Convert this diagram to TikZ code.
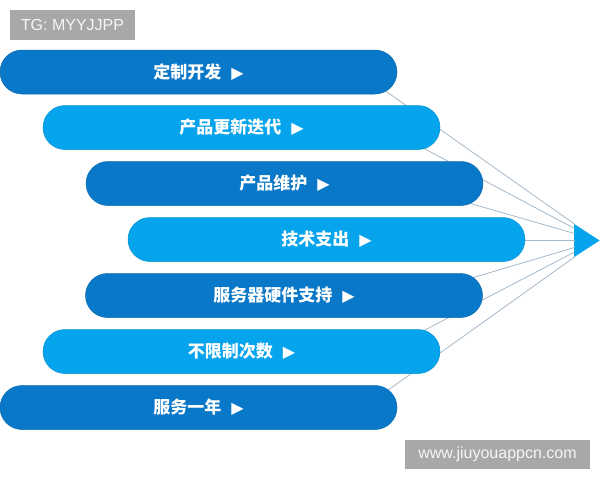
\documentclass[tikz,border=0pt]{standalone}
\usepackage{fontspec}
\setmainfont{Liberation Sans}
\newfontfamily\cjk{Noto Sans CJK SC}
\newfontfamily\symf{DejaVu Sans}
\usetikzlibrary{shapes.geometric}
\definecolor{bardark}{RGB}{10,120,200}
\definecolor{barlight}{RGB}{6,164,236}
\definecolor{linkgray}{RGB}{165,184,202}
\definecolor{tagbg}{RGB}{168,168,168}
\definecolor{tagtext}{RGB}{245,245,245}
\tikzset{
  barbox/.style={rectangle, rounded corners=22pt, minimum width=397pt, minimum height=44pt,
    inner sep=0pt, text=white, font=\cjk\bfseries\fontsize{17pt}{17pt}\selectfont},
  darkbar/.style={barbox, fill=bardark, draw=bardark!90!black, line width=0.5pt},
  lightbar/.style={barbox, fill=barlight, draw=barlight!90!black, line width=0.5pt},
  link/.style={draw=linkgray, line width=0.8pt},
  tag/.style={rectangle, fill=tagbg, text=tagtext, inner sep=0pt, font=\fontsize{16pt}{16pt}\selectfont},
}
\newcommand{\arr}{\hspace{10pt}{\symf\fontsize{16pt}{16pt}\selectfont ▶}}
\begin{document}
\begin{tikzpicture}[x=1pt,y=-1pt]
\useasboundingbox (0,0) rectangle (600,480);
% pointer triangle
\node[isosceles triangle, isosceles triangle apex angle=66, fill=barlight, inner sep=0pt,
  minimum height=25.5pt, anchor=apex] (tri) at (600,240.5) {};
\coordinate (t1) at (574.5,224);
\coordinate (t2) at (574.5,228.5);
\coordinate (t3) at (574.5,233.5);
\coordinate (t4) at (574.5,240.5);
\coordinate (t5) at (574.5,247.5);
\coordinate (t6) at (574.5,252);
\coordinate (t7) at (574.5,257);
% hidden starts inside bars
\coordinate (s1) at (350,66);
\coordinate (s2) at (400,135.7);
\coordinate (s3) at (440,194.7);
\coordinate (s4) at (500,240.5);
\coordinate (s5) at (440,287.4);
\coordinate (s6) at (400,343);
\coordinate (s7) at (370,403);
\foreach \i in {1,...,7} \draw[link] (s\i) -- (t\i);
% bars
\node[darkbar]  (b1) at (198.5,72)  {定制开发\arr};
\node[lightbar] (b2) at (241.5,127.5)   {产品更新迭代\arr};
\node[darkbar]  (b3) at (284.5,183.5)   {产品维护\arr};
\node[lightbar] (b4) at (326.5,239.5)   {技术支出\arr};
\node[darkbar]  (b5) at (284,295.5)     {服务器硬件支持\arr};
\node[lightbar] (b6) at (241.5,351.5)   {不限制次数\arr};
\node[darkbar]  (b7) at (198.5,407.5)   {服务一年\arr};
% tags
\node[tag, minimum width=125pt, minimum height=30pt] (tg) at (72.5,25) {TG: MYYJJPP};
\node[tag, minimum width=185pt, minimum height=29pt] (web) at (497.5,454.5) {www.jiuyouappcn.com};
\end{tikzpicture}
\end{document}
